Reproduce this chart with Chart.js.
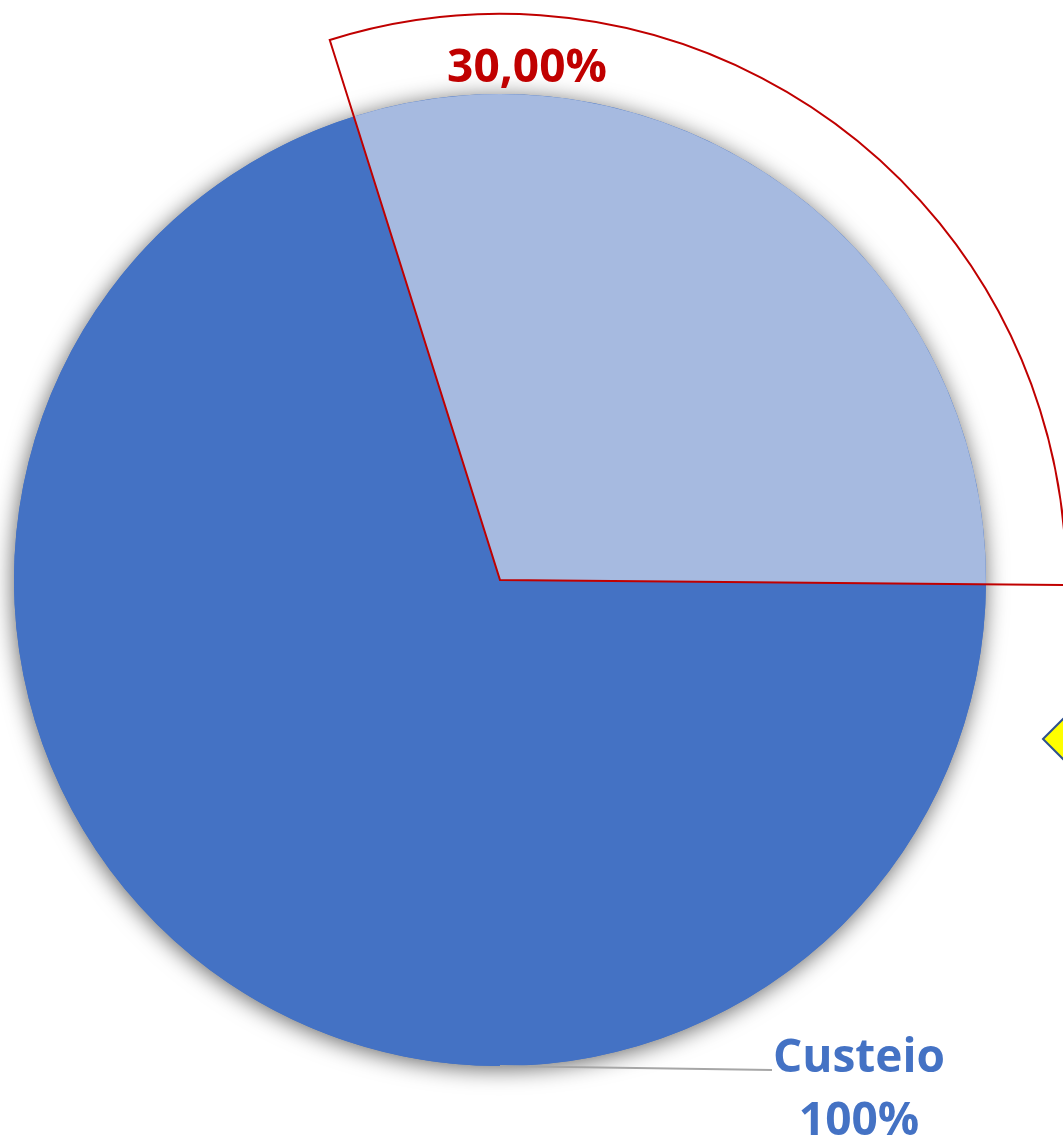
<!DOCTYPE html>
<html>
<head>
<meta charset="utf-8">
<script src="https://cdn.jsdelivr.net/npm/chart.js@4"></script>
<style>
  body { margin: 0; background: #fff; }
  #wrap { width: 1063px; height: 1139px; position: relative; }
</style>
</head>
<body>
<div id="wrap"><canvas id="pie"></canvas></div>
<script>
// dados do grafico
const categorias = ['Custeio'];
const valores = [100];            // % total da categoria
const destaque = [30, 70];        // fatia destacada / restante (%)
const rotuloDestaque = '30,00%';

const corEscura = '#4472C4';
const corClara = '#A6BAE0';
const corVermelha = '#C00000';

// sombra + fatia contornada + rotulos
const decoracao = {
    id: 'decoracao',
    beforeDatasetsDraw(chart) {
        const arc = chart.getDatasetMeta(0).data[0];
        if (!arc) return;
        const { x, y, outerRadius } = arc.getProps(['x', 'y', 'outerRadius'], true);
        const ctx = chart.ctx;
        ctx.save();
        ctx.shadowColor = 'rgba(0,0,0,0.6)';
        ctx.shadowBlur = 22;
        ctx.shadowOffsetX = -1;
        ctx.shadowOffsetY = 3;
        ctx.fillStyle = corEscura;
        ctx.beginPath();
        ctx.arc(x, y, outerRadius, 0, Math.PI * 2);
        ctx.fill();
        ctx.restore();
    },
    afterDatasetsDraw(chart) {
        const ctx = chart.ctx;
        const arc = chart.getDatasetMeta(0).data[0];
        const { x, y, startAngle, endAngle, outerRadius } =
            arc.getProps(['x', 'y', 'startAngle', 'endAngle', 'outerRadius'], true);

        // setor destacado (contorno vermelho)
        const r2 = outerRadius * 1.165;
        ctx.save();
        ctx.strokeStyle = corVermelha;
        ctx.lineWidth = 2;
        ctx.beginPath();
        ctx.moveTo(x, y);
        ctx.lineTo(x + Math.cos(startAngle) * r2, y + Math.sin(startAngle) * r2);
        ctx.arc(x, y, r2, startAngle, endAngle);
        ctx.closePath();
        ctx.stroke();

        // rotulo 30,00%
        ctx.fillStyle = corVermelha;
        ctx.font = 'bold 46px "Open Sans", "Noto Sans", sans-serif';
        ctx.textAlign = 'center';
        ctx.textBaseline = 'alphabetic';
        ctx.fillText(rotuloDestaque, x + 27, y - outerRadius - 12);

        // linha guia + rotulo Custeio
        const by = y + outerRadius;
        ctx.strokeStyle = '#A6A6A6';
        ctx.lineWidth = 2;
        ctx.beginPath();
        ctx.moveTo(x, by);
        ctx.lineTo(772, by + 4);
        ctx.stroke();

        ctx.fillStyle = corEscura;
        ctx.fillText(categorias[0], 859, 1072);
        ctx.fillText(valores[0] + '%', 859, 1135);

        // losango amarelo (cortado na borda)
        ctx.fillStyle = '#FFFF00';
        ctx.strokeStyle = '#2F528F';
        ctx.lineWidth = 2;
        ctx.beginPath();
        ctx.moveTo(1043, 739);
        ctx.lineTo(1080, 702);
        ctx.lineTo(1117, 739);
        ctx.lineTo(1080, 776);
        ctx.closePath();
        ctx.fill();
        ctx.stroke();
        ctx.restore();
    }
};

new Chart(document.getElementById('pie'), {
    type: 'pie',
    data: {
        labels: ['Destaque', categorias[0]],
        datasets: [{
            data: destaque,
            backgroundColor: [corClara, corEscura],
            borderWidth: 0
        }]
    },
    options: {
        responsive: true,
        maintainAspectRatio: false,
        animation: false,
        rotation: -17.5,
        layout: { padding: { left: 14, right: 77, top: 94, bottom: 73 } },
        plugins: { legend: { display: false }, tooltip: { enabled: false } }
    },
    plugins: [decoracao]
});
</script>
</body>
</html>
